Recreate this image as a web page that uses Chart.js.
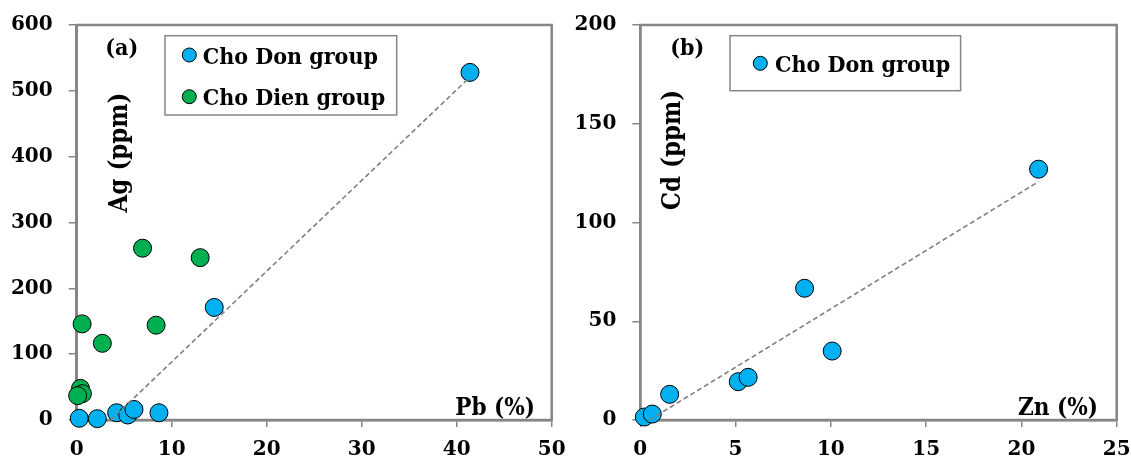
<!DOCTYPE html>
<html><head><meta charset="utf-8">
<script src="https://cdn.jsdelivr.net/npm/chart.js@4.4.1/dist/chart.umd.min.js"></script>
<style>
html,body{margin:0;padding:0;background:#fff;}
#wrap{position:relative;width:1131px;height:462px;overflow:hidden;background:#fff;}
.pane{position:absolute;top:0;height:462px;}
#pa{left:0;width:566px}
#pb{left:566px;width:565px}
</style></head><body>
<div id="wrap"><div class="pane" id="pa"><canvas id="ca"></canvas></div><div class="pane" id="pb"><canvas id="cb"></canvas></div></div>
<script>
// ---- data (panel a) ----
const choDonPb = [0.27, 2.17, 4.2, 5.37, 6.03, 8.66, 14.48, 41.4];
const choDonAg = [2.6, 2, 11, 7.6, 16, 11, 171, 528];
const choDienPb = [0.57, 2.7, 6.93, 13.0, 8.36, 0.4, 0.6, 0.1];
const choDienAg = [146, 116.5, 261, 246.6, 144, 48, 40, 37];
const trendPb = [3.6, 41.4];
const trendAg = [0, 521];
const pbTicks = [0, 10, 20, 30, 40, 50];
const agTicks = [0, 100, 200, 300, 400, 500, 600];
// ---- data (panel b) ----
const choDonZn = [0.21, 0.63, 1.54, 5.14, 5.66, 8.62, 10.07, 20.9];
const choDonCd = [1.5, 3, 13, 19.4, 21.6, 66.7, 34.9, 127];
const trendZn = [0.48, 20.9];
const trendCd = [0, 120.7];
const znTicks = [0, 5, 10, 15, 20, 25];
const cdTicks = [0, 50, 100, 150, 200];
// ---- labels ----
const seriesNames = ['Cho Don group', 'Cho Dien group'];

const BLUE = '#00B0F0', GREEN = '#00B050', GREY = '#868686';
const TFONT = '"DejaVu Serif Condensed", "Liberation Serif", serif';
const TICKFONT = '"DejaVu Serif", serif';

function pts(xs, ys) { return xs.map((x, i) => ({x: x, y: ys[i]})); }

function axis(ticksArr, isX, fit) {
  return {
    type: 'linear',
    min: ticksArr[0], max: ticksArr[ticksArr.length - 1],
    afterBuildTicks: s => { s.ticks = ticksArr.map(v => ({value: v})); },
    afterFit: s => {
      if (isX) s.height = fit; else s.width = fit;
      s.paddingTop = 0; s.paddingBottom = 0; s.paddingLeft = 0; s.paddingRight = 0;
    },
    grid: {display: true, drawOnChartArea: false, drawTicks: true, tickLength: isX ? 7 : 8, color: GREY, lineWidth: 1.5},
    border: {display: true, color: GREY, width: 2.5},
    ticks: {color: '#000', font: {family: TICKFONT, weight: 'bold', size: 20}, padding: isX ? 11 : 16, maxRotation: 0, autoSkip: false}
  };
}

const decor = {
  id: 'decor',
  beforeDatasetsDraw(chart, args, o) {
    const a = chart.chartArea, c = chart.ctx;
    c.save();
    c.strokeStyle = GREY; c.lineWidth = 2.5;
    c.strokeRect(a.left, a.top, a.right - a.left, a.bottom - a.top);
    c.restore();
  },
  afterDraw(chart, args, o) {
    const a = chart.chartArea, c = chart.ctx;
    c.save();
    c.fillStyle = '#000';
    c.font = 'bold 23px ' + TFONT;
    c.textAlign = 'center'; c.textBaseline = 'middle';
    c.fillText(o.tag, a.left + o.tagPos[0], a.top + o.tagPos[1]);
    c.save();
    c.translate(a.left + o.yPos[0], a.top + o.yPos[1]);
    c.rotate(-Math.PI / 2);
    c.font = 'bold 25.5px ' + TFONT;
    c.fillText(o.yTitle, 0, 0);
    c.restore();
    c.font = 'bold 24px ' + TFONT;
    c.textAlign = 'right'; c.textBaseline = 'alphabetic';
    c.fillText(o.xTitle, a.right - o.xPos[0], a.bottom - o.xPos[1]);
    const bx = a.left + o.box[0], by = a.top + o.box[1];
    c.fillStyle = '#fff';
    c.fillRect(bx, by, o.box[2], o.box[3]);
    c.strokeStyle = GREY; c.lineWidth = 1.5;
    c.strokeRect(bx, by, o.box[2], o.box[3]);
    chart.data.datasets.forEach((ds, i) => {
      if (!ds.inLegend) return;
      const my = by + o.rowY[i];
      c.beginPath();
      c.arc(bx + o.markX, my, 7, 0, Math.PI * 2);
      c.fillStyle = ds.backgroundColor; c.fill();
      c.strokeStyle = '#000'; c.lineWidth = 1; c.stroke();
      c.fillStyle = '#000';
      c.font = 'bold 23px ' + TFONT;
      c.textAlign = 'left'; c.textBaseline = 'alphabetic';
      c.fillText(ds.label, bx + o.textX, my + 8.5);
    });
    c.restore();
  }
};

function scatterSet(label, data, color, order) {
  return {type: 'scatter', label: label, data: data, inLegend: true, backgroundColor: color, borderColor: '#000',
    borderWidth: 1, pointRadius: 9, pointHoverRadius: 9, order: order, clip: false};
}
function trendSet(data) {
  return {type: 'line', label: 'trend', data: data, inLegend: false, borderColor: '#7f7f7f', borderWidth: 1.6,
    borderDash: [5, 3], pointRadius: 0, fill: false, order: 0, clip: false, tension: 0};
}

new Chart(document.getElementById('ca'), {
  data: {datasets: [
    scatterSet(seriesNames[0], pts(choDonPb, choDonAg), BLUE, 2),
    scatterSet(seriesNames[1], pts(choDienPb, choDienAg), GREEN, 1),
    trendSet(pts(trendPb, trendAg))
  ]},
  options: {
    responsive: true, maintainAspectRatio: false, animation: false,
    layout: {autoPadding: false, padding: {left: 0, top: 25, right: 14.3, bottom: 0}},
    plugins: {legend: {display: false}, tooltip: {enabled: false},
      decor: {tag: '(a)', tagPos: [45, 24], yTitle: 'Ag (ppm)', yPos: [43.3, 127.5], xTitle: 'Pb (%)', xPos: [16.7, 5],
        box: [88.3, 10.7, 231.7, 79.3], rowY: [19.3, 61], markX: 24.3, textX: 37.7}},
    scales: {x: axis(pbTicks, true, 42), y: axis(agTicks, false, 76.7)}
  },
  plugins: [decor]
});

new Chart(document.getElementById('cb'), {
  data: {datasets: [
    scatterSet(seriesNames[0], pts(choDonZn, choDonCd), BLUE, 1),
    trendSet(pts(trendZn, trendCd))
  ]},
  options: {
    responsive: true, maintainAspectRatio: false, animation: false,
    layout: {autoPadding: false, padding: {left: 0, top: 25, right: 14.3, bottom: 0}},
    plugins: {legend: {display: false}, tooltip: {enabled: false},
      decor: {tag: '(b)', tagPos: [47, 24.5], yTitle: 'Cd (ppm)', yPos: [33.4, 125], xTitle: 'Zn (%)', xPos: [18.7, 5],
        box: [89.7, 10.7, 230.6, 55], rowY: [27.6], markX: 30.3, textX: 45}},
    scales: {x: axis(znTicks, true, 42), y: axis(cdTicks, false, 74.3)}
  },
  plugins: [decor]
});
</script>
</body></html>
